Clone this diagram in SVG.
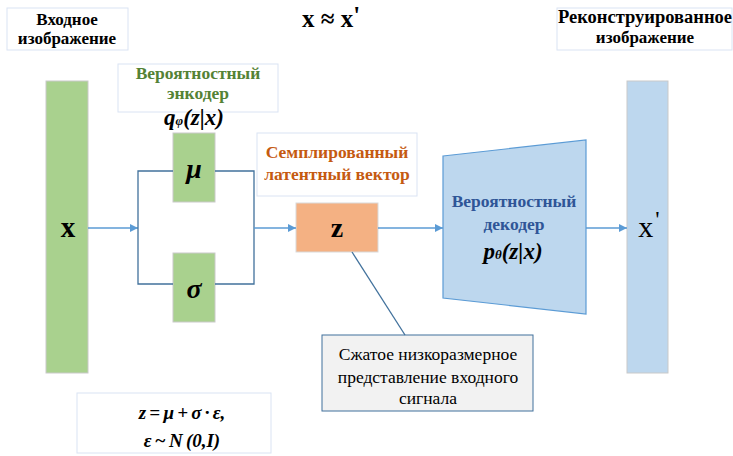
<svg xmlns="http://www.w3.org/2000/svg" width="733" height="456" viewBox="0 0 733 456">
<defs>
<style>
.lbl{fill:#fff;stroke:#dae3f3;stroke-width:1}
text{font-family:'Liberation Serif','DejaVu Serif','Times New Roman',Times,serif}
.b{font-weight:bold}
.bi{font-weight:bold;font-style:italic}
.green{fill:#a9d18e;stroke:#c9c9c9;stroke-width:1}
.conn{fill:none;stroke:#5b9bd5;stroke-width:1.3}
.br{fill:none;stroke:#41719c;stroke-width:1.3}
</style>
<marker id="ah" viewBox="0 0 10 10" refX="10" refY="5" markerWidth="8" markerHeight="8" markerUnits="userSpaceOnUse" orient="auto">
<path d="M0,0 L10,5 L0,10 z" fill="#5b9bd5"/>
</marker>
</defs>
<rect width="733" height="456" fill="#fff"/>

<g id="label-input">
<rect class="lbl" x="7" y="8" width="121" height="42"/>
<text class="b" x="67" y="25" font-size="17" text-anchor="middle">Входное</text>
<text class="b" x="67" y="44" font-size="17" text-anchor="middle">изображение</text>
</g>

<g id="equation-top">
<text class="b" x="331" y="27" font-size="25" text-anchor="middle">x ≈ x<tspan dy="-3">'</tspan></text>
</g>

<g id="label-output">
<rect class="lbl" x="557" y="8" width="175" height="42"/>
<text class="b" x="645" y="23" font-size="18.5" text-anchor="middle">Реконструированное</text>
<text class="b" x="645" y="43" font-size="17" text-anchor="middle">изображение</text>
</g>

<g id="input-x">
<rect class="green" x="46" y="81" width="42" height="292"/>
<text class="b" x="68" y="237" font-size="29" text-anchor="middle">x</text>
</g>

<g id="label-encoder">
<rect class="lbl" x="118" y="64" width="160" height="48"/>
<text class="b" x="198" y="79" font-size="17.5" fill="#548235" text-anchor="middle">Вероятностный</text>
<text class="b" x="198" y="99" font-size="17.5" fill="#548235" text-anchor="middle">энкодер</text>
<text class="bi" x="194" y="125" font-size="23" text-anchor="middle">q<tspan font-size="13">φ</tspan>(z|x)</text>
</g>

<g id="mu">
<rect class="green" x="173" y="133" width="42" height="69"/>
<text class="bi" x="194" y="178" font-size="28" text-anchor="middle">μ</text>
</g>

<g id="sigma">
<rect class="green" x="173" y="253" width="42" height="69"/>
<text class="bi" x="194" y="298" font-size="28" text-anchor="middle">σ</text>
</g>

<g id="label-sampled">
<rect class="lbl" x="257" y="133" width="160" height="63"/>
<text class="b" x="337" y="158" font-size="17.5" fill="#c55a11" text-anchor="middle">Семплированный</text>
<text class="b" x="337" y="180" font-size="17.5" fill="#c55a11" text-anchor="middle">латентный вектор</text>
</g>

<g id="z">
<rect x="296" y="203" width="82" height="49" fill="#f4b183" stroke="#d9d9d9" stroke-width="1"/>
<text class="b" x="337" y="237" font-size="28" text-anchor="middle">z</text>
</g>

<g id="decoder">
<polygon points="443,156 586,140 586,314 443,298" fill="#bdd7ee" stroke="#5b9bd5" stroke-width="1.2"/>
<text class="b" x="514" y="207" font-size="17.5" fill="#2f5597" text-anchor="middle">Вероятностный</text>
<text class="b" x="514" y="230" font-size="17.5" fill="#2f5597" text-anchor="middle">декодер</text>
<text class="bi" x="513" y="259" font-size="23" text-anchor="middle">p<tspan font-size="13">θ</tspan>(z|x)</text>
</g>

<g id="output-x">
<rect x="627" y="81" width="41" height="292" fill="#bdd7ee" stroke="#c9c9c9" stroke-width="1"/>
<text x="649" y="237" font-size="30" text-anchor="middle">x<tspan font-size="24" dx="2" dy="-10">'</tspan></text>
</g>

<g id="callout">
<rect x="322" y="335" width="211" height="76" fill="#f2f2f2" stroke="#41719c" stroke-width="1"/>
<text x="428" y="360" font-size="17.5" text-anchor="middle">Сжатое низкоразмерное</text>
<text x="428" y="383" font-size="17.5" text-anchor="middle">представление входного</text>
<text x="428" y="404" font-size="17.5" text-anchor="middle">сигнала</text>
</g>

<g id="formula">
<rect class="lbl" x="77" y="393" width="194" height="60"/>
<text class="bi" x="182" y="419" font-size="19" word-spacing="-1.5" text-anchor="middle">z = μ + σ · ε,</text>
<text class="bi" x="182" y="447" font-size="19" word-spacing="-1.5" text-anchor="middle">ε ~ N (0,I)</text>
</g>

<g id="connectors">
<line class="conn" x1="88" y1="228" x2="138" y2="228" marker-end="url(#ah)"/>
<polyline class="br" points="173,171 138,171 138,284 173,284"/>
<polyline class="br" points="215,171 254,171 254,284 215,284"/>
<line class="conn" x1="254" y1="228" x2="296" y2="228" marker-end="url(#ah)"/>
<line class="conn" x1="378" y1="228" x2="443" y2="228" marker-end="url(#ah)"/>
<line class="conn" x1="586" y1="228" x2="627" y2="228" marker-end="url(#ah)"/>
<line class="br" x1="352" y1="252" x2="405" y2="335" stroke-width="1"/>
</g>
</svg>
